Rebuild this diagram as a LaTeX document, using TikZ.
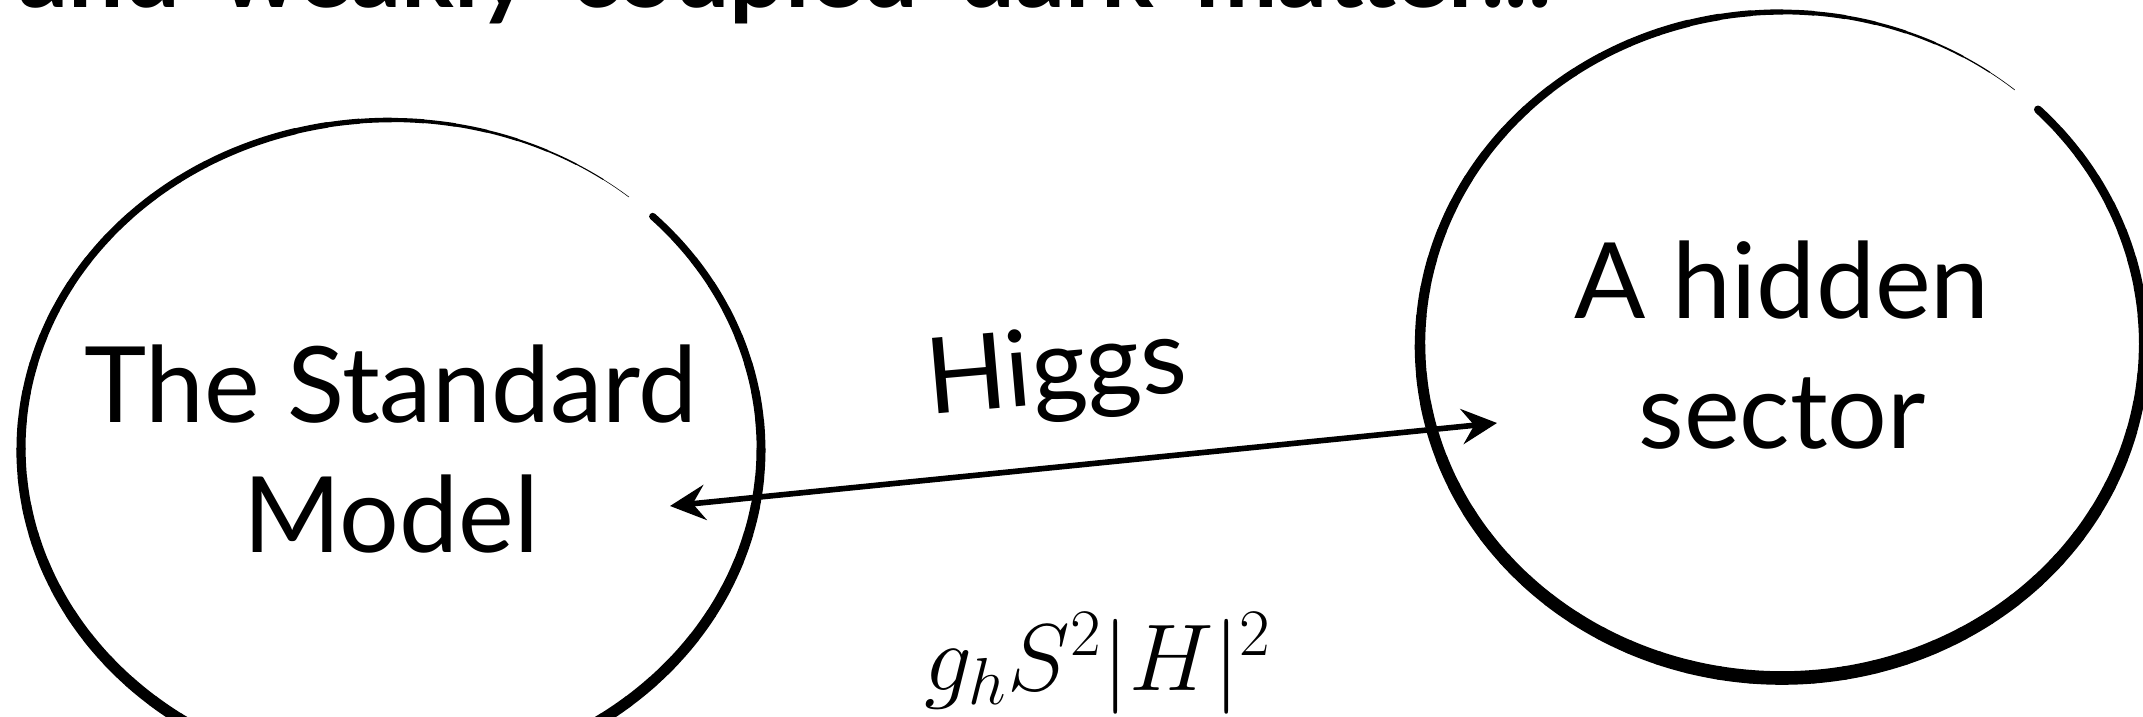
\RequirePackage{fix-cm}
\documentclass[tikz,border=0pt]{standalone}
\usepackage{fontspec}
\setmainfont{Lato}
\newfontfamily\headfont{Lato}[WordSpace=1.7]
\usetikzlibrary{arrows.meta}

\begin{document}
\begin{tikzpicture}[>={Stealth[length=10pt,width=10pt,inset=3.5pt]},
    sector/.style={inner sep=0pt,align=center,font=\fontsize{30}{37}\selectfont}]
    \useasboundingbox (0,0) rectangle (21.43,7.16);
    \clip (0,0) rectangle (21.43,7.16);
    % --- headline, cut off by the top edge
    \node[anchor=base west,inner sep=0pt,font=\headfont\fontsize{28}{34}\selectfont\bfseries]
      (head) at (0.18,7.08) {and weakly coupled dark matter...};
    % --- the two sectors
    \node[sector] (sm) at (3.91,2.67) {The Standard\\Model};
    \node[sector] (hid) at (17.82,3.71) {A hidden\\sector};
    % --- brush rings: open at the upper right, heavier low down, thin tail at the end
    \foreach \c/\rx/\ry/\k in {sm/3.70/3.29/1.35, hid/3.62/3.33/1.55}
      \foreach \s in {45,40,...,-305}
        {\pgfmathsetmacro\t{45-\s}
         \pgfmathsetmacro\w{\k*(1.9+0.6*sin(\t-45))*min(1,(355-\t)/60)}
         \draw[line width=\w pt,line cap=round] (\c) ++(\s:\rx cm and \ry cm)
           arc[start angle=\s,end angle=\s-5,x radius=\rx cm,y radius=\ry cm];}
    % --- the Higgs portal
    \coordinate (smend) at (6.70,2.10);
    \coordinate (hidend) at (14.97,2.93);
    \draw[<->,line width=1.6pt] (smend) -- (hidend);
    \node[sector,rotate=5,anchor=base] (higgs) at (10.59,3.13) {Higgs};
    \node[inner sep=0pt,anchor=base,font=\fontsize{27}{31}\selectfont]
      (coupling) at (10.98,0.26) {$g_hS^2|H|^2$};
\end{tikzpicture}
\end{document}
